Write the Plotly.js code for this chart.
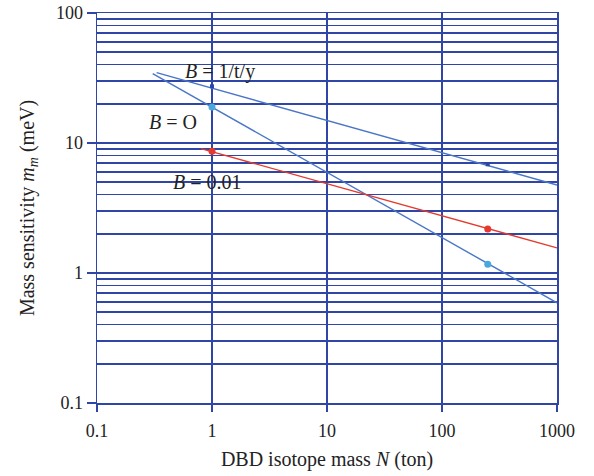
<!DOCTYPE html>
<html>
<head>
<meta charset="utf-8">
<script src="https://cdn.plot.ly/plotly-3.0.1.min.js"></script>
<style>
  html, body { margin: 0; padding: 0; background: #ffffff; }
  #chart { width: 594px; height: 476px; }
</style>
</head>
<body>
<div id="chart"></div>
<script>
// Sensitivity curves (isotope mass in ton, mass sensitivity in meV)
const bgHighX = [0.33, 1000];
const bgHighY = [34.8, 4.75];
const bgZeroX = [0.305, 1000];
const bgZeroY = [34.2, 0.59];
const bgLowX = [0.80, 1000];
const bgLowY = [9.06, 1.56];

// Highlighted points on each curve
const ptX = [1, 250];
const bgHighPts = [27.3, 6.86];
const bgZeroPts = [18.9, 1.17];
const bgLowPts = [8.63, 2.18];

// Axis ticks
const xTicks = [0.1, 1, 10, 100, 1000];
const xTickText = ['0.1', '1', '10', '100', '1000'];
const yTicks = [0.1, 1, 10, 100];
const yTickText = ['0.1', '1', '10', '100'];
const yMinor = [];
[0.1, 1, 10].forEach(d => { for (let k = 2; k <= 9; k++) yMinor.push(+(d * k).toPrecision(3)); });

const gridBlue = '#3046a6';
const lineBlue = '#4a76c6';
const red = '#e5392d';
const serif = 'Liberation Serif, DejaVu Serif, serif';
const ink = '#222222';

const traces = [
  { x: bgHighX, y: bgHighY, mode: 'lines', line: { color: lineBlue, width: 1.4 }, hoverinfo: 'skip' },
  { x: bgZeroX, y: bgZeroY, mode: 'lines', line: { color: lineBlue, width: 1.4 }, hoverinfo: 'skip' },
  { x: bgLowX, y: bgLowY, mode: 'lines', line: { color: red, width: 1.4 }, hoverinfo: 'skip' },
  { x: ptX, y: bgHighPts, mode: 'markers', marker: { color: '#2a46a8', size: 4, symbol: 'square' } },
  { x: ptX, y: bgZeroPts, mode: 'markers', marker: { color: '#4aa8dc', size: 7 } },
  { x: ptX, y: bgLowPts, mode: 'markers', marker: { color: red, size: 7 } }
];

const layout = {
  width: 594,
  height: 476,
  margin: { l: 97, r: 37, t: 13, b: 73 },
  paper_bgcolor: '#ffffff',
  plot_bgcolor: '#ffffff',
  showlegend: false,
  font: { family: serif, size: 18, color: ink },
  xaxis: {
    type: 'log',
    range: [-1, 3],
    tickvals: xTicks,
    ticktext: xTickText,
    ticks: 'outside',
    ticklen: 7,
    tickwidth: 1.5,
    tickcolor: gridBlue,
    ticklabelstandoff: 4,
    showline: true,
    linecolor: gridBlue,
    linewidth: 1.5,
    mirror: true,
    showgrid: true,
    gridcolor: gridBlue,
    gridwidth: 1.5,
    zeroline: false,
    tickfont: { family: serif, size: 18, color: ink },
    title: { text: 'DBD isotope mass <i>N</i> (ton)', font: { family: serif, size: 20, color: ink }, standoff: 12 }
  },
  yaxis: {
    type: 'log',
    range: [-1, 2],
    tickvals: yTicks,
    ticktext: yTickText,
    ticks: 'outside',
    ticklen: 9,
    tickwidth: 1.5,
    tickcolor: gridBlue,
    showline: true,
    linecolor: gridBlue,
    linewidth: 1.5,
    mirror: true,
    showgrid: true,
    gridcolor: gridBlue,
    gridwidth: 1.5,
    zeroline: false,
    minor: { tickvals: yMinor, showgrid: true, gridcolor: gridBlue, gridwidth: 1.5, ticks: '' },
    tickfont: { family: serif, size: 18, color: ink },
    title: { text: 'Mass sensitivity <i>m<sub>m</sub></i> (meV)', font: { family: serif, size: 20, color: ink }, standoff: 16 }
  },
  annotations: [
    { x: 0.07, y: 1.55, xref: 'x', yref: 'y', text: '<i>B</i> = 1/t/y', showarrow: false, font: { family: serif, size: 20, color: ink } },
    { x: -0.343, y: 1.159, xref: 'x', yref: 'y', text: '<i>B</i> = O', showarrow: false, font: { family: serif, size: 20, color: ink } },
    { x: -0.039, y: 0.698, xref: 'x', yref: 'y', text: '<i>B</i> = 0.01', showarrow: false, font: { family: serif, size: 20, color: ink } }
  ]
};

Plotly.newPlot('chart', traces, layout, { displayModeBar: false, staticPlot: true });
</script>
</body>
</html>
